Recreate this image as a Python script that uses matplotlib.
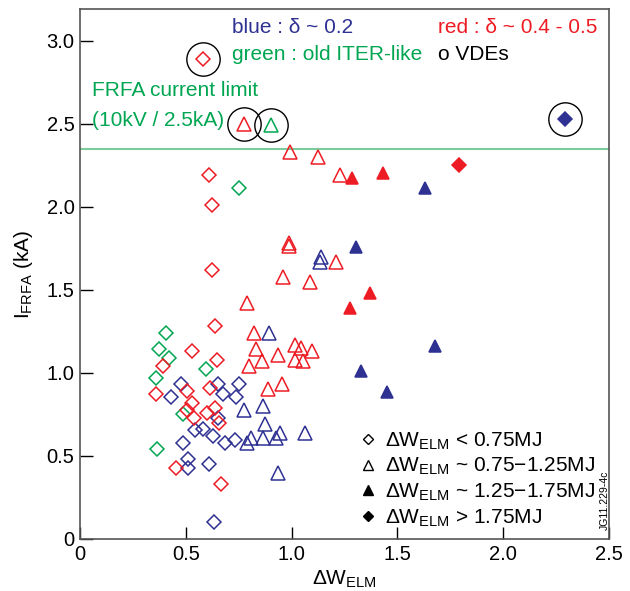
import numpy as np
import matplotlib.pyplot as plt
from matplotlib.lines import Line2D

plt.rcParams['font.family'] = ['Liberation Sans', 'DejaVu Sans']
plt.rcParams['mathtext.fontset'] = 'custom'
plt.rcParams['mathtext.rm'] = 'Liberation Sans'
plt.rcParams['mathtext.it'] = 'Liberation Sans:italic'
plt.rcParams['mathtext.bf'] = 'Liberation Sans:bold'

RED = '#ed1c24'
BLUE = '#2e3192'
GREEN = '#00a651'
LIMIT_GREEN = '#7ccc9c'

# data: (dW_ELM [MJ], I_FRFA [kA])
red_open_dia_x = [0.58, 0.61, 0.624, 0.625, 0.64, 0.53, 0.648, 0.39, 0.505, 0.615, 0.36, 0.53,
                  0.505, 0.54, 0.60, 0.64, 0.657, 0.454, 0.667]
red_open_dia_y = [2.89, 2.19, 2.01, 1.62, 1.28, 1.13, 1.08, 1.04, 0.89, 0.91, 0.87, 0.82,
                  0.775, 0.73, 0.76, 0.79, 0.70, 0.43, 0.33]

green_open_dia_x = [0.75, 0.405, 0.374, 0.42, 0.595, 0.36, 0.487, 0.364]
green_open_dia_y = [2.11, 1.24, 1.145, 1.09, 1.025, 0.97, 0.755, 0.54]

blue_open_dia_x = [0.477, 0.65, 0.75, 0.43, 0.675, 0.735, 0.65, 0.545, 0.58, 0.63, 0.686,
                   0.733, 0.487, 0.51, 0.51, 0.61, 0.634]
blue_open_dia_y = [0.93, 0.93, 0.93, 0.855, 0.87, 0.855, 0.73, 0.655, 0.66, 0.62, 0.575,
                   0.595, 0.575, 0.48, 0.425, 0.45, 0.105]

red_open_tri_x = [0.775, 0.993, 1.125, 1.23, 0.99, 0.99, 1.21, 0.96, 1.087, 0.79, 0.82, 0.83,
                  0.80, 0.86, 0.935, 1.017, 1.045, 1.097, 1.017, 1.055, 0.89, 0.955]
red_open_tri_y = [2.50, 2.33, 2.30, 2.19, 1.78, 1.765, 1.67, 1.575, 1.545, 1.42, 1.24, 1.145,
                  1.04, 1.07, 1.11, 1.165, 1.15, 1.13, 1.08, 1.07, 0.90, 0.93]

green_open_tri_x = [0.903]
green_open_tri_y = [2.49]

blue_open_tri_x = [1.14, 1.135, 0.895, 0.776, 0.865, 0.875, 0.945, 0.81, 0.865, 0.925, 0.79,
                   1.064, 0.935]
blue_open_tri_y = [1.70, 1.67, 1.24, 0.775, 0.80, 0.69, 0.64, 0.61, 0.61, 0.61, 0.575,
                   0.64, 0.40]

blue_full_tri_x = [1.305, 1.63, 1.68, 1.33, 1.45]
blue_full_tri_y = [1.76, 2.11, 1.16, 1.01, 0.885]

red_full_tri_x = [1.286, 1.43, 1.37, 1.277]
red_full_tri_y = [2.17, 2.20, 1.48, 1.39]

blue_full_dia_x = [2.29]
blue_full_dia_y = [2.53]

red_full_dia_x = [1.79]
red_full_dia_y = [2.25]

# VDE shots (circled)
vde_x = [0.58, 0.775, 0.903, 2.29]
vde_y = [2.89, 2.50, 2.49, 2.53]

frfa_limit = 2.35

x_ticks = [0, 0.5, 1.0, 1.5, 2.0, 2.5]
x_tick_labels = ['0', '0.5', '1.0', '1.5', '2.0', '2.5']
y_ticks = [0, 0.5, 1.0, 1.5, 2.0, 2.5, 3.0]
y_tick_labels = ['0', '0.5', '1.0', '1.5', '2.0', '2.5', '3.0']

legend_labels = [r'ΔW$_{\mathrm{ELM}}$ < 0.75MJ',
                 r'ΔW$_{\mathrm{ELM}}$ ~ 0.75$-$1.25MJ',
                 r'ΔW$_{\mathrm{ELM}}$ ~ 1.25$-$1.75MJ',
                 r'ΔW$_{\mathrm{ELM}}$ > 1.75MJ']


fig = plt.figure(figsize=(6.3, 5.91), dpi=100)
ax = fig.add_axes([80 / 630, 1 - 539 / 591, 529 / 630, 530 / 591])


def pts(x, y, marker, color, filled, ms):
    ax.plot(x, y, linestyle='none', marker=marker, ms=ms, mec=color,
            mfc=color if filled else 'none', mew=1.1)


DIA = 7.5
TRI = 10

ax.axhline(frfa_limit, color=LIMIT_GREEN, lw=1.5, zorder=1)

pts(green_open_dia_x, green_open_dia_y, 'D', GREEN, False, DIA)
pts(blue_open_dia_x, blue_open_dia_y, 'D', BLUE, False, DIA)
pts(red_open_dia_x, red_open_dia_y, 'D', RED, False, DIA)
pts(blue_open_tri_x, blue_open_tri_y, '^', BLUE, False, TRI)
pts(red_open_tri_x, red_open_tri_y, '^', RED, False, TRI)
pts(green_open_tri_x, green_open_tri_y, '^', GREEN, False, TRI)
pts(blue_full_tri_x, blue_full_tri_y, '^', BLUE, True, 8.5)
pts(red_full_tri_x, red_full_tri_y, '^', RED, True, 8.5)
pts(blue_full_dia_x, blue_full_dia_y, 'D', BLUE, True, 7)
pts(red_full_dia_x, red_full_dia_y, 'D', RED, True, 7)

ax.plot(vde_x, vde_y, linestyle='none', marker='o', ms=24, mfc='none', mec='black', mew=1.0)

ax.text(0.72, 3.08, 'blue : δ ~ 0.2', color=BLUE, fontsize=15, va='center')
ax.text(1.69, 3.08, 'red : δ ~ 0.4 - 0.5', color=RED, fontsize=15, va='center')
ax.text(0.72, 2.915, 'green : old ITER-like', color=GREEN, fontsize=15, va='center')
ax.text(1.69, 2.915, 'o VDEs', color='black', fontsize=15, va='center')
ax.text(0.057, 2.70, 'FRFA current limit', color=GREEN, fontsize=15, va='center')
ax.text(0.057, 2.52, '(10kV / 2.5kA)', color=GREEN, fontsize=15, va='center')

handles = [
    Line2D([], [], linestyle='none', marker='D', ms=5.5, mfc='none', mec='black', mew=1.0),
    Line2D([], [], linestyle='none', marker='^', ms=7, mfc='none', mec='black', mew=1.0),
    Line2D([], [], linestyle='none', marker='^', ms=7, mfc='black', mec='black'),
    Line2D([], [], linestyle='none', marker='D', ms=5.5, mfc='black', mec='black'),
]
ax.legend(handles, legend_labels, loc='lower right', bbox_to_anchor=(0.993, 0.0),
          frameon=False, fontsize=15, handlelength=0.8, handletextpad=0.4,
          labelspacing=0.21, borderpad=0.3, borderaxespad=0.2)

ax.set_xlim(0, 2.5)
ax.set_ylim(0, 3.19)
ax.set_xticks(x_ticks)
ax.set_xticklabels(x_tick_labels)
ax.set_yticks(y_ticks)
ax.set_yticklabels(y_tick_labels)
ax.tick_params(direction='in', length=9, width=1, labelsize=14.5, pad=4,
               top=False, right=False)
for sp in ax.spines.values():
    sp.set_color('#555555')
    sp.set_linewidth(1.2)

ax.set_xlabel(r'ΔW$_{\mathrm{ELM}}$', fontsize=15, labelpad=4)
ax.set_ylabel(r'I$_{\mathrm{FRFA}}$ (kA)', fontsize=15, labelpad=8)

fig.text(605 / 630, 1 - 500 / 591, 'JG11.229-4c', rotation=90, fontsize=7.5,
         ha='center', va='center')

fig.savefig('out.png', dpi=100)
